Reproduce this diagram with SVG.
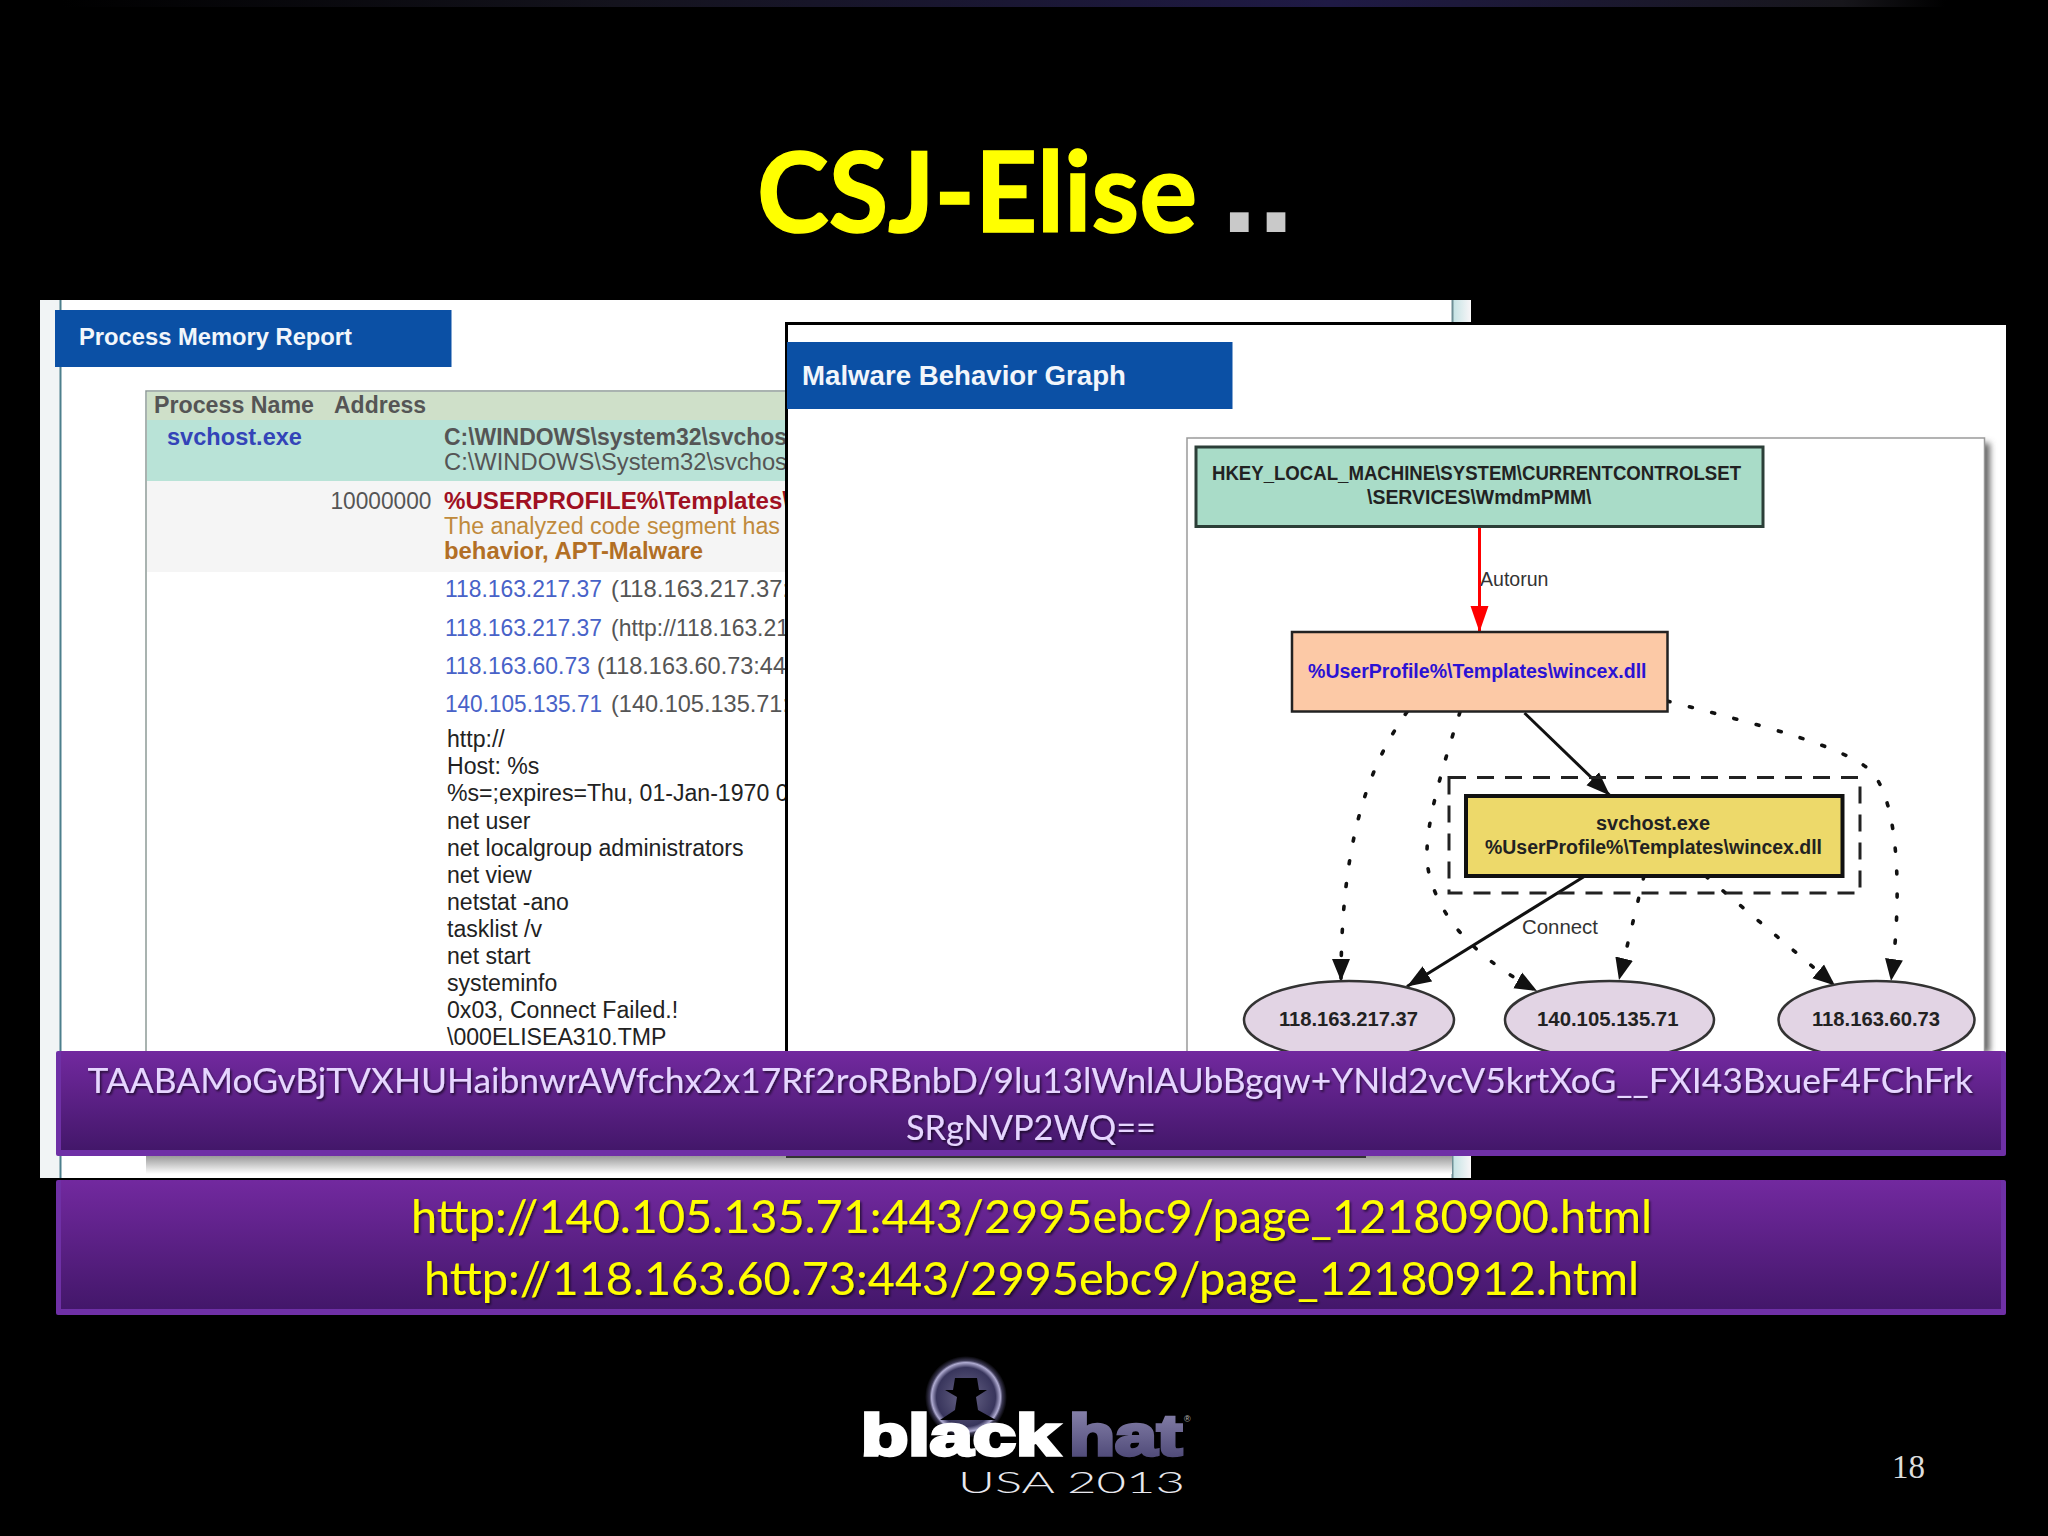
<svg xmlns="http://www.w3.org/2000/svg" width="2048" height="1536" viewBox="0 0 2048 1536">
<style>
.s{font-family:"Liberation Sans",Arial,sans-serif}
.b{font-weight:700}
.c{font-family:Lato,"Open Sans",sans-serif}
.grey{fill:#555}
.k{fill:#222}
.ip{fill:#4862c8}
.gl{fill:#222;font-weight:700;font-size:20px}
.sh{filter:url(#ds)}
.dot{fill:none;stroke:#111;stroke-width:3.6;stroke-dasharray:3 20;stroke-linecap:round}
.sol{fill:none;stroke:#111;stroke-width:3}
</style>
<defs>
<linearGradient id="bar" x1="0" y1="0" x2="0" y2="1"><stop offset="0" stop-color="#72299f"/><stop offset="1" stop-color="#43176a"/></linearGradient>
<linearGradient id="top" x1="0" y1="0" x2="1" y2="0"><stop offset="0.03" stop-color="#000"/><stop offset="0.3" stop-color="#14131d"/><stop offset="0.65" stop-color="#1f1a45"/><stop offset="0.9" stop-color="#17161b"/><stop offset="0.95" stop-color="#000"/></linearGradient>
<linearGradient id="hat" x1="0" y1="0" x2="0" y2="1"><stop offset="0" stop-color="#8f8ab2"/><stop offset="1" stop-color="#45406f"/></linearGradient>
<linearGradient id="strip" x1="0" y1="0" x2="1" y2="0"><stop offset="0" stop-color="#c4e3e4"/><stop offset="1" stop-color="#f7f5f7"/></linearGradient>
<linearGradient id="fade" x1="0" y1="0" x2="0" y2="1"><stop offset="0" stop-color="#9a9a9a"/><stop offset="1" stop-color="#fff"/></linearGradient>
<radialGradient id="glow" cx="0.5" cy="0.5" r="0.5"><stop offset="0" stop-color="#6a6688"/><stop offset="0.72" stop-color="#38355c"/><stop offset="0.84" stop-color="#b0acd2"/><stop offset="0.89" stop-color="#3a3752"/><stop offset="1" stop-color="#000"/></radialGradient>
<filter id="ds" x="-5%" y="-20%" width="110%" height="150%"><feDropShadow dx="1.500" dy="2" stdDeviation="1.200" flood-color="#000" flood-opacity="0.6"/></filter>
<filter id="blur" x="-10%" y="-10%" width="120%" height="120%"><feGaussianBlur stdDeviation="3"/></filter>
<marker id="ar" markerUnits="userSpaceOnUse" markerWidth="26" markerHeight="20" refX="24" refY="10" orient="auto"><path d="M0 1L24 10L0 19z" fill="#111"/></marker>
<marker id="ard" markerUnits="userSpaceOnUse" markerWidth="24" markerHeight="20" refX="22" refY="10" orient="auto"><path d="M0 1L22 10L0 19z" fill="#111"/></marker>
<marker id="arr" markerUnits="userSpaceOnUse" markerWidth="28" markerHeight="20" refX="26" refY="10" orient="auto"><path d="M0 1L26 10L0 19z" fill="#f00"/></marker>
</defs>
<rect width="2048" height="1536" fill="#000"/>
<rect width="2048" height="7" fill="url(#top)"/>
<g id="title">
<text class="c" x="757" y="232" font-size="112" font-weight="700" fill="#ffff00" stroke="#ffff00" stroke-width="1.500" textLength="440" lengthAdjust="spacingAndGlyphs">CSJ-Elise</text>
<text class="s b" x="1221" y="232" font-size="132" fill="#c9c9c9">..</text>
</g>
<g id="process-memory-report">
<rect x="40" y="300" width="1431" height="878" fill="#fff"/>
<rect x="40" y="300" width="20" height="878" fill="#f1f4f5"/>
<path d="M60.500 300V1178" stroke="#4d7f8c" stroke-width="2"/>
<rect x="1453" y="300" width="17.500" height="878" fill="url(#strip)"/>
<path d="M1452.500 300V1178" stroke="#6f8f96" stroke-width="2"/>
<rect x="55" y="310" width="396.500" height="57" fill="#0b50a5"/>
<text class="s b" x="79" y="345" font-size="23" fill="#f2f6fb" textLength="273" lengthAdjust="spacingAndGlyphs">Process Memory Report</text>
<path d="M146 1156V391H790" fill="none" stroke="#8d9a96" stroke-width="1.500"/>
<rect x="147" y="392" width="700" height="28" fill="#cfe0c9"/>
<rect x="147" y="420" width="700" height="61" fill="#b9e3d7"/>
<rect x="147" y="481" width="700" height="91" fill="#f5f5f5"/>
<rect x="146" y="1156" width="1306" height="18" fill="url(#fade)"/>
<text class="s b grey" x="154" y="413" font-size="23" textLength="160" lengthAdjust="spacingAndGlyphs">Process Name</text>
<text class="s b grey" x="334" y="413" font-size="23" textLength="92" lengthAdjust="spacingAndGlyphs">Address</text>
<text class="s b" x="167" y="445" font-size="23" fill="#3344b8" textLength="135" lengthAdjust="spacingAndGlyphs">svchost.exe</text>
<text class="s b grey" x="444" y="445" font-size="23" textLength="343" lengthAdjust="spacingAndGlyphs">C:\WINDOWS\system32\svchos</text>
<text class="s grey" x="444" y="470" font-size="23" textLength="343" lengthAdjust="spacingAndGlyphs">C:\WINDOWS\System32\svchos</text>
<text class="s grey" x="330.500" y="509" font-size="23" textLength="101" lengthAdjust="spacingAndGlyphs">10000000</text>
<text class="s b" x="444" y="509" font-size="23" fill="#a01022" textLength="345" lengthAdjust="spacingAndGlyphs">%USERPROFILE%\Templates\</text>
<text class="s" x="444" y="534" font-size="23" fill="#c08a3c" textLength="336" lengthAdjust="spacingAndGlyphs">The analyzed code segment has</text>
<text class="s b" x="444" y="559" font-size="23" fill="#b26f25" textLength="259" lengthAdjust="spacingAndGlyphs">behavior, APT-Malware</text>
<text class="s ip" x="445" y="597" font-size="24" textLength="157" lengthAdjust="spacingAndGlyphs">118.163.217.37</text>
<text class="s grey" x="611" y="597" font-size="24" textLength="178" lengthAdjust="spacingAndGlyphs">(118.163.217.37:</text>
<text class="s ip" x="445" y="635.500" font-size="24" textLength="157" lengthAdjust="spacingAndGlyphs">118.163.217.37</text>
<text class="s grey" x="611" y="635.500" font-size="24" textLength="178" lengthAdjust="spacingAndGlyphs">(http://118.163.21</text>
<text class="s ip" x="445" y="674" font-size="24" textLength="145" lengthAdjust="spacingAndGlyphs">118.163.60.73</text>
<text class="s grey" x="597" y="674" font-size="24" textLength="189" lengthAdjust="spacingAndGlyphs">(118.163.60.73:44</text>
<text class="s ip" x="445" y="712" font-size="24" textLength="157" lengthAdjust="spacingAndGlyphs">140.105.135.71</text>
<text class="s grey" x="611" y="712" font-size="24" textLength="178" lengthAdjust="spacingAndGlyphs">(140.105.135.71:</text>
<g class="s k" font-size="23.100">
<text x="447" y="747">http://</text>
<text x="447" y="774">Host: %s</text>
<text x="447" y="801">%s=;expires=Thu, 01-Jan-1970 0</text>
<text x="447" y="828.500">net user</text>
<text x="447" y="855.500">net localgroup administrators</text>
<text x="447" y="882.500">net view</text>
<text x="447" y="909.500">netstat -ano</text>
<text x="447" y="936.500">tasklist /v</text>
<text x="447" y="963.500">net start</text>
<text x="447" y="990.500">systeminfo</text>
<text x="447" y="1018">0x03, Connect Failed.!</text>
<text x="447" y="1045">\000ELISEA310.TMP</text>
</g>
</g>
<g id="malware-behavior-graph">
<rect x="787" y="324" width="1219" height="828" fill="#fff"/>
<path d="M786.500 1152V323.500H2006" fill="none" stroke="#000" stroke-width="3"/>
<path d="M786 1157H1366" stroke="#333" stroke-width="2"/>
<rect x="787" y="342" width="445.500" height="67" fill="#0b50a5"/>
<text class="s b" x="802" y="385" font-size="28" fill="#f2f6fb" textLength="324" lengthAdjust="spacingAndGlyphs">Malware Behavior Graph</text>
<rect x="1192" y="443" width="798" height="610" fill="#666" filter="url(#blur)"/>
<rect x="1187" y="438" width="797.500" height="620" fill="#fff" stroke="#9a9a9a" stroke-width="1.500"/>
</g>
<g id="connectors">
<path d="M1479.500 527V632" fill="none" stroke="#f00" stroke-width="3" marker-end="url(#arr)"/>
<path class="sol" d="M1524.500 713L1610 795.500" marker-end="url(#ar)"/>
<path class="sol" d="M1585 876L1407 986.500" marker-end="url(#ar)"/>
<path class="dot" d="M1407 712C1365 770 1341 850 1341 981" marker-end="url(#ard)"/>
<path class="dot" d="M1460 712C1432 800 1420 850 1431 880C1445 930 1490 965 1537 991" marker-end="url(#ard)"/>
<path class="dot" d="M1667 701C1760 725 1840 745 1870 770C1900 800 1902 900 1891 981" marker-end="url(#ard)"/>
<path class="dot" d="M1644 876L1619 980" marker-end="url(#ard)"/>
<path class="dot" d="M1705.500 876L1835 985.500" marker-end="url(#ard)"/>
</g>
<text id="label-autorun" class="s" x="1480" y="585.500" font-size="20" fill="#333" textLength="68.500" lengthAdjust="spacingAndGlyphs">Autorun</text>
<text id="label-connect" class="s" x="1522" y="933.500" font-size="20" fill="#333" textLength="76" lengthAdjust="spacingAndGlyphs">Connect</text>
<g id="node-registry">
<rect x="1196" y="447" width="567" height="79.500" fill="#a9dcc8" stroke="#2c3f38" stroke-width="3"/>
<text class="s gl" x="1212" y="479.500" textLength="529" lengthAdjust="spacingAndGlyphs">HKEY_LOCAL_MACHINE\SYSTEM\CURRENTCONTROLSET</text>
<text class="s gl" x="1367" y="504" textLength="224.500" lengthAdjust="spacingAndGlyphs">\SERVICES\WmdmPMM\</text>
</g>
<g id="node-wincex">
<rect x="1292" y="632" width="375.500" height="79.500" fill="#fcc9a6" stroke="#222" stroke-width="2.500"/>
<text class="s gl" x="1308" y="677.500" style="fill:#2b12d4" textLength="338.500" lengthAdjust="spacingAndGlyphs">%UserProfile%\Templates\wincex.dll</text>
</g>
<g id="cluster">
<rect x="1449" y="777.500" width="411" height="115.500" fill="none" stroke="#222" stroke-width="3" stroke-dasharray="17 11"/>
</g>
<g id="node-svchost">
<rect x="1466" y="796" width="376.500" height="80" fill="#edd96a" stroke="#111" stroke-width="4"/>
<text class="s gl" x="1596" y="829.500" textLength="114" lengthAdjust="spacingAndGlyphs">svchost.exe</text>
<text class="s gl" x="1485" y="854" textLength="337" lengthAdjust="spacingAndGlyphs">%UserProfile%\Templates\wincex.dll</text>
</g>
<g id="node-ip1">
<ellipse cx="1349" cy="1020" rx="105" ry="39" fill="#e2d4e4" stroke="#333" stroke-width="2.500"/>
<text class="s gl" x="1279" y="1026" textLength="139" lengthAdjust="spacingAndGlyphs">118.163.217.37</text>
</g>
<g id="node-ip2">
<ellipse cx="1609.500" cy="1020" rx="104.500" ry="39" fill="#e2d4e4" stroke="#333" stroke-width="2.500"/>
<text class="s gl" x="1537" y="1026" textLength="141.500" lengthAdjust="spacingAndGlyphs">140.105.135.71</text>
</g>
<g id="node-ip3">
<ellipse cx="1876.500" cy="1020" rx="98" ry="39" fill="#e2d4e4" stroke="#333" stroke-width="2.500"/>
<text class="s gl" x="1812" y="1026" textLength="128" lengthAdjust="spacingAndGlyphs">118.163.60.73</text>
</g>
<g id="bar-hash">
<rect x="56" y="1051" width="1950" height="105" rx="2" fill="#6f30a6"/>
<rect x="61" y="1051" width="1940" height="99" fill="url(#bar)"/>
<text class="c sh" x="87.500" y="1093" font-size="35" fill="#e6d6ff" textLength="1885.500" lengthAdjust="spacingAndGlyphs">TAABAMoGvBjTVXHUHaibnwrAWfchx2x17Rf2roRBnbD/9lu13lWnlAUbBgqw+YNld2vcV5krtXoG__FXI43BxueF4FChFrk</text>
<text class="c sh" x="906" y="1140" font-size="35" fill="#e6d6ff" textLength="250" lengthAdjust="spacingAndGlyphs">SRgNVP2WQ==</text>
</g>
<g id="bar-urls">
<rect x="56" y="1180" width="1950" height="135" rx="2" fill="#6f30a6"/>
<rect x="61" y="1180" width="1940" height="129" fill="url(#bar)"/>
<text class="c sh" x="411" y="1233" font-size="47" fill="#ffff00" textLength="1241" lengthAdjust="spacingAndGlyphs">http://140.105.135.71:443/2995ebc9/page_12180900.html</text>
<text class="c sh" x="424" y="1295" font-size="47" fill="#ffff00" textLength="1215" lengthAdjust="spacingAndGlyphs">http://118.163.60.73:443/2995ebc9/page_12180912.html</text>
</g>
<g id="logo">
<circle cx="966" cy="1397" r="41" fill="url(#glow)"/>
<path d="M955 1378H977L979 1390H987L976 1397L978 1410L996 1420H940L955 1410L957 1397L945 1390H953z" fill="#000"/>
<text class="s b" x="861" y="1455" font-size="58" fill="#fff" stroke="#fff" stroke-width="3.500" textLength="198" lengthAdjust="spacingAndGlyphs">black</text>
<text class="s b" x="1069" y="1455" font-size="58" fill="url(#hat)" stroke="url(#hat)" stroke-width="3.500" textLength="113" lengthAdjust="spacingAndGlyphs">hat</text>
<text class="s" x="1184" y="1422" font-size="9" fill="#bbb">®</text>
<text class="c" x="958" y="1493" font-size="30" font-weight="300" fill="#e8e8ee" textLength="227" lengthAdjust="spacingAndGlyphs">USA 2013</text>
</g>
<text id="page-number" x="1892" y="1478" font-family="Liberation Serif,serif" font-size="33" fill="#ddd">18</text>
</svg>
